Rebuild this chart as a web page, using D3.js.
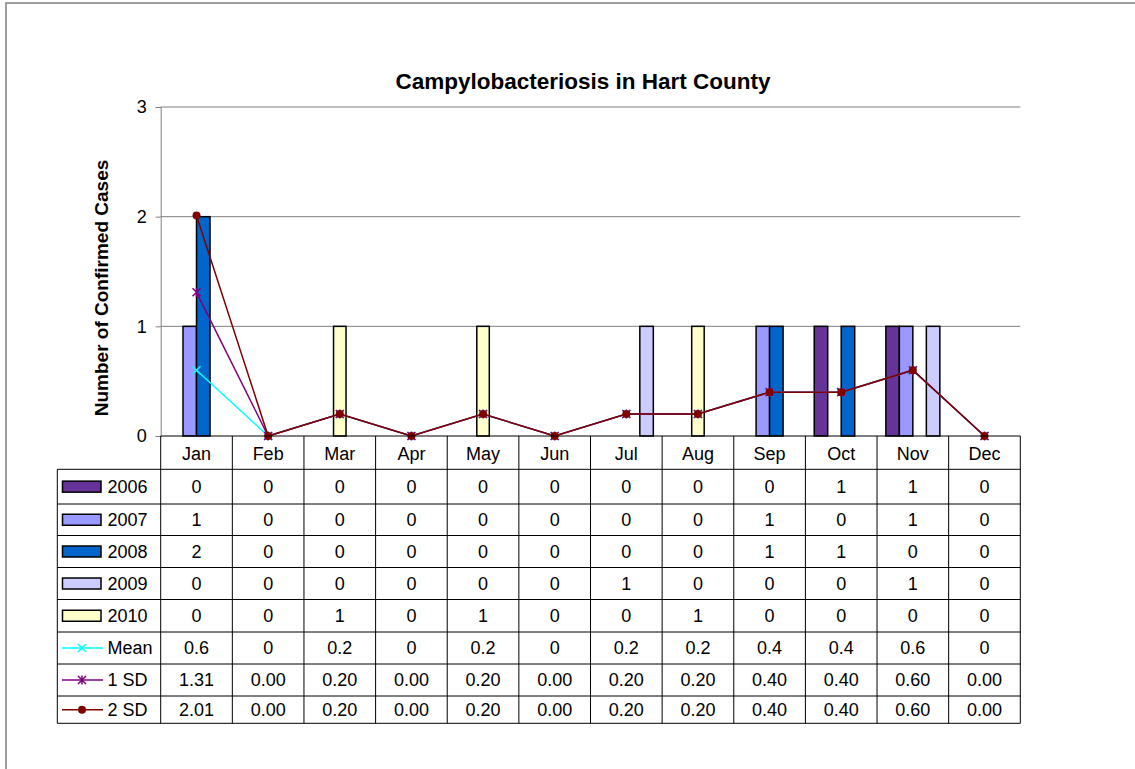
<!DOCTYPE html>
<html><head><meta charset="utf-8">
<script src="https://cdn.jsdelivr.net/npm/d3@7"></script>
<style>body{margin:0;background:#fff}svg{display:block;font-family:Arial,"Liberation Sans",sans-serif}</style>
</head><body><svg id="c" width="1135" height="769"></svg>
<script>
const months = ["Jan","Feb","Mar","Apr","May","Jun","Jul","Aug","Sep","Oct","Nov","Dec"];
const yearSeries = ["2006","2007","2008","2009","2010"];
const v2006 = [0,0,0,0,0,0,0,0,0,1,1,0];
const v2007 = [1,0,0,0,0,0,0,0,1,0,1,0];
const v2008 = [2,0,0,0,0,0,0,0,1,1,0,0];
const v2009 = [0,0,0,0,0,0,1,0,0,0,1,0];
const v2010 = [0,0,1,0,1,0,0,1,0,0,0,0];
const meanVals = [0.6,0,0.2,0,0.2,0,0.2,0.2,0.4,0.4,0.6,0];
const sd1Vals = [1.31,0,0.2,0,0.2,0,0.2,0.2,0.4,0.4,0.6,0];
const sd2Vals = [2.01,0,0.2,0,0.2,0,0.2,0.2,0.4,0.4,0.6,0];
const yTicks = [0,1,2,3];
const title = "Campylobacteriosis in Hart County";
const yTitle = "Number of Confirmed Cases";

const yearValues = [v2006,v2007,v2008,v2009,v2010];
const yearColors = ["#663399","#9999FF","#0066CC","#CCCCFF","#FFFFCC"];
const lineSeries = [
  {name:"Mean", vals:meanVals, color:"#00FFFF", marker:"x", fmt:v=>String(v)},
  {name:"1 SD", vals:sd1Vals, color:"#800080", marker:"star", fmt:v=>v.toFixed(2)},
  {name:"2 SD", vals:sd2Vals, color:"#800000", marker:"dot", fmt:v=>v.toFixed(2)}
];

const FS = "18px";
const svg = d3.select("#c");
const L = 160.7, R = 1020.3, T = 107, B = 436;
const x = d3.scaleBand().domain(months).range([L,R]).padding(0);
const y = d3.scaleLinear().domain([0,3]).range([B,T]);
const inner = d3.scaleBand().domain(yearSeries.slice(0,4)).range([-27,27]).padding(0);
const bw2010 = 12.5;

// frame
svg.append("rect").attr("x",6).attr("y",3).attr("width",1200).attr("height",900)
  .attr("fill","none").attr("stroke","#808080").attr("stroke-width",1.5);

// title
svg.append("text").attr("x",583).attr("y",89).attr("text-anchor","middle")
  .style("font-size","22.5px").attr("font-weight","bold").text(title);

// gridlines
svg.append("g").selectAll("line").data(yTicks.filter(d=>d>0)).join("line")
  .attr("x1",L).attr("x2",R).attr("y1",d=>y(d)).attr("y2",d=>y(d))
  .attr("stroke","#808080").attr("stroke-width",1);

// y axis
const yAxis = d3.axisLeft(y).tickValues(yTicks).tickFormat(d3.format("d")).tickSize(5).tickPadding(9);
const ga = svg.append("g").attr("transform",`translate(${L},0)`).call(yAxis);
ga.attr("font-size",null).attr("font-family",null);
ga.select(".domain").attr("stroke","#808080");
ga.selectAll(".tick line").attr("stroke","#808080");
ga.selectAll(".tick text").style("font-size",FS).attr("fill","#000");

svg.append("text").attr("transform","translate(108,288) rotate(-90)").attr("text-anchor","middle")
  .style("font-size","19px").attr("font-weight","bold").text(yTitle);

// bars
yearSeries.forEach((yr,si)=>{
  const vals = yearValues[si];
  const g = svg.append("g");
  g.selectAll("rect").data(months.map((m,i)=>({m,v:vals[i]})).filter(d=>d.v>0)).join("rect")
    .attr("x",d=> si<4 ? x(d.m)+x.bandwidth()/2+inner(yr) : x(d.m)+x.bandwidth()/2-bw2010/2)
    .attr("width", si<4 ? inner.bandwidth() : bw2010)
    .attr("y",d=>y(d.v)).attr("height",d=>y(0)-y(d.v))
    .attr("fill",yearColors[si]).attr("stroke","#000").attr("stroke-width",1.5);
});

// markers
function drawMarker(g, type, color, cx, cy){
  if(type==="x"){
    g.append("path").attr("d",`M${cx-4},${cy-4}L${cx+4},${cy+4}M${cx-4},${cy+4}L${cx+4},${cy-4}`)
      .attr("stroke",color).attr("stroke-width",1.5).attr("fill","none");
  } else if(type==="star"){
    g.append("path").attr("d",`M${cx-4},${cy-4}L${cx+4},${cy+4}M${cx-4},${cy+4}L${cx+4},${cy-4}M${cx},${cy-4.5}L${cx},${cy+4.5}`)
      .attr("stroke",color).attr("stroke-width",1.5).attr("fill","none");
  } else {
    g.append("circle").attr("cx",cx).attr("cy",cy).attr("r",4).attr("fill",color);
  }
}

const line = d3.line().x((d,i)=>x(months[i])+x.bandwidth()/2).y(d=>y(d));
lineSeries.forEach(s=>{
  const g = svg.append("g");
  g.append("path").datum(s.vals).attr("d",line).attr("fill","none").attr("stroke",s.color).attr("stroke-width",1.5);
  s.vals.forEach((v,i)=>drawMarker(g,s.marker,s.color,x(months[i])+x.bandwidth()/2,y(v)));
});

// data table
const rowEdges = [469.3,504,535.5,567.5,599.5,632,664,696,723.3];
const TL = 57.3;
const tg = svg.append("g");
tg.append("line").attr("x1",L).attr("x2",R).attr("y1",B).attr("y2",B).attr("stroke","#000");
months.forEach(m=>{
  tg.append("text").attr("x",x(m)+x.bandwidth()/2).attr("y",(B+rowEdges[0])/2+1).attr("dy","0.36em")
    .attr("text-anchor","middle").style("font-size",FS).text(m);
});
const vx = [L].concat(months.map(m=>x(m)+x.bandwidth()));
vx.forEach(xx=>tg.append("line").attr("x1",xx).attr("x2",xx).attr("y1",B).attr("y2",rowEdges[rowEdges.length-1]).attr("stroke","#000"));
tg.append("line").attr("x1",TL).attr("x2",TL).attr("y1",rowEdges[0]).attr("y2",rowEdges[rowEdges.length-1]).attr("stroke","#000");
rowEdges.forEach(yy=>tg.append("line").attr("x1",TL).attr("x2",R).attr("y1",yy).attr("y2",yy).attr("stroke","#000"));

const rows = yearSeries.map((yr,si)=>({name:yr,vals:yearValues[si],fmt:v=>String(v),type:"bar",color:yearColors[si]}))
  .concat(lineSeries.map(s=>({name:s.name,vals:s.vals,fmt:s.fmt,type:"line",color:s.color,marker:s.marker})));
rows.forEach((r,ri)=>{
  const cy = (rowEdges[ri]+rowEdges[ri+1])/2;
  if(r.type==="bar"){
    tg.append("rect").attr("x",62.5).attr("y",cy-5.5).attr("width",38.5).attr("height",11)
      .attr("fill",r.color).attr("stroke","#000").attr("stroke-width",1.5);
  } else {
    tg.append("line").attr("x1",62).attr("x2",103).attr("y1",cy).attr("y2",cy).attr("stroke",r.color).attr("stroke-width",1.5);
    drawMarker(tg,r.marker,r.color,82,cy);
  }
  tg.append("text").attr("x",107.5).attr("y",cy).attr("dy","0.36em").style("font-size",FS).text(r.name);
  r.vals.forEach((v,i)=>{
    tg.append("text").attr("x",x(months[i])+x.bandwidth()/2).attr("y",cy).attr("dy","0.36em")
      .attr("text-anchor","middle").style("font-size",FS).text(r.fmt(v));
  });
});
</script></body></html>
